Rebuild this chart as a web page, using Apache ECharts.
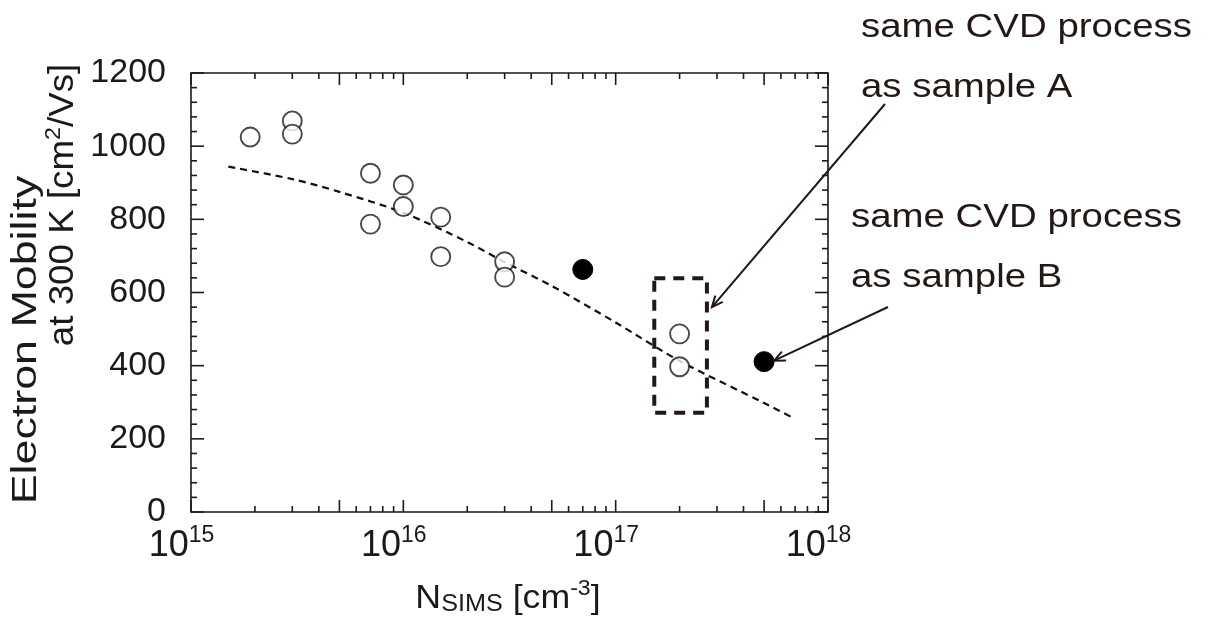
<!DOCTYPE html>
<html>
<head>
<meta charset="utf-8">
<script src="https://cdn.jsdelivr.net/npm/echarts@6/dist/echarts.min.js"></script>
<style>
  html, body { margin: 0; padding: 0; background: #fff; }
  #chart { width: 1212px; height: 619px; }
</style>
</head>
<body>
<div id="chart"></div>
<script>
// Hall mobility of electrons at 300 K versus SIMS donor concentration
const openN  = [1.9e15, 3e15, 3e15, 7e15, 7e15, 1e16, 1e16, 1.5e16, 1.5e16, 3e16, 3e16, 2e17, 2e17];
const openMu = [1025, 1069, 1033, 926, 787, 894, 835, 806, 698, 684, 642, 487, 397];

const filledN  = [7e16, 5e17];
const filledMu = [663, 411];

// empirical mobility model curve (dashed)
const fitN  = [1.5e15, 3e15, 5e15, 1e16, 2e16, 3e16, 5e16, 1e17, 2e17, 5e17, 6.7e17];
const fitMu = [944, 910, 875, 818, 738, 683, 618, 518, 413, 298, 260];

// samples grown with the same CVD process as sample A
const boxN  = [1.52e17, 2.69e17];
const boxMu = [271, 639];

// axis ranges and tick positions
const X_MIN = 1e15, X_MAX = 1e18;
const Y_MIN = 0, Y_MAX = 1200, Y_STEP = 200, Y_MINOR_STEP = 40;
const DECADES = [1e15, 1e16, 1e17, 1e18];
const LOG_MULTIPLIERS = [2, 3, 4, 5, 6, 7, 8, 9];

const INK = '#1a1a1a';
const NOTE = '#231815';
const FONT = '"Liberation Sans", Arial, Helvetica, sans-serif';

// tick marks on all four sides, pointing into the frame
const tickData = [];
DECADES.forEach(function (d, i) {
  tickData.push([d, Y_MIN, 1]);
  if (i < DECADES.length - 1) {
    LOG_MULTIPLIERS.forEach(function (m) {
      tickData.push([d * m, Y_MIN, m === 5 ? 1 : 0]);
    });
  }
});
for (let v = Y_MIN; v <= Y_MAX; v += Y_MINOR_STEP) {
  tickData.push([X_MIN, v, v % Y_STEP === 0 ? 3 : 2]);
}

function renderTick(params, api) {
  const kind = api.value(2);
  const style = { stroke: INK, lineWidth: 1.6 };
  if (kind < 2) {
    const len = kind === 1 ? 12 : 6;
    const v = api.value(0);
    const b = api.coord([v, Y_MIN]);
    const t = api.coord([v, Y_MAX]);
    return { type: 'group', children: [
      { type: 'line', shape: { x1: b[0], y1: b[1], x2: b[0], y2: b[1] - len }, style: style },
      { type: 'line', shape: { x1: t[0], y1: t[1], x2: t[0], y2: t[1] + len }, style: style }
    ] };
  }
  const len = kind === 3 ? 13 : 6;
  const v = api.value(1);
  const l = api.coord([X_MIN, v]);
  const r = api.coord([X_MAX, v]);
  return { type: 'group', children: [
    { type: 'line', shape: { x1: l[0], y1: l[1], x2: l[0] + len, y2: l[1] }, style: style },
    { type: 'line', shape: { x1: r[0], y1: r[1], x2: r[0] - len, y2: r[1] }, style: style }
  ] };
}

function zip(xs, ys) { return xs.map(function (x, i) { return [x, ys[i]]; }); }

const boxPath = [
  [boxN[0], boxMu[1]], [boxN[1], boxMu[1]], [boxN[1], boxMu[0]],
  [boxN[0], boxMu[0]], [boxN[0], boxMu[1]]
];

const chart = echarts.init(document.getElementById('chart'), null, { renderer: 'canvas' });

chart.setOption({
  animation: false,
  backgroundColor: '#fff',
  grid: { left: 191, top: 73, width: 637, height: 439, show: true, borderColor: INK, borderWidth: 1.6, backgroundColor: 'transparent' },
  xAxis: {
    type: 'log', logBase: 10, min: X_MIN, max: X_MAX,
    axisLine: { show: false }, axisTick: { show: false }, splitLine: { show: false },
    axisLabel: {
      margin: 12, color: INK,
      formatter: function (v) { return '{b|10}{s|' + Math.round(Math.log10(v)) + '}'; },
      rich: {
        b: { fontFamily: FONT, fontSize: 36, color: INK, verticalAlign: 'bottom', lineHeight: 40 },
        s: { fontFamily: FONT, fontSize: 23, color: INK, verticalAlign: 'top', lineHeight: 40, padding: [0, 19, 16, 0] }
      }
    }
  },
  yAxis: {
    type: 'value', min: Y_MIN, max: Y_MAX, interval: Y_STEP,
    axisLine: { show: false }, axisTick: { show: false }, splitLine: { show: false },
    axisLabel: {
      margin: 25, color: INK, fontFamily: FONT, fontSize: 34,
      formatter: function (v) { return String(v); }
    }
  },
  series: [
    {
      type: 'custom', name: 'ticks', renderItem: renderTick, data: tickData,
      clip: false, silent: true, z: 5
    },
    {
      type: 'line', name: 'model', data: zip(fitN, fitMu), smooth: 0.3,
      showSymbol: false, silent: true, z: 2,
      lineStyle: { color: '#111', width: 2.2, type: [7, 5] }
    },
    {
      type: 'line', name: 'same process as A', data: boxPath,
      showSymbol: false, silent: true, z: 3,
      lineStyle: { color: NOTE, width: 4, type: [11, 8] }
    },
    {
      type: 'scatter', name: 'samples', data: zip(openN, openMu),
      symbol: 'circle', symbolSize: 19, z: 4,
      itemStyle: { color: '#fff', borderColor: INK, borderWidth: 1.9 }
    },
    {
      type: 'scatter', name: 'samples A, B', data: zip(filledN, filledMu),
      symbol: 'circle', symbolSize: 20, z: 4,
      itemStyle: { color: '#000', borderColor: '#000', borderWidth: 1, opacity: 1 }
    }
  ]
});

// annotation arrows: heads anchored to the plotted marks
function arrow(tail, head) {
  const ang = Math.atan2(head[1] - tail[1], head[0] - tail[0]);
  const len = 12, spread = 0.42;
  const p1 = [head[0] - len * Math.cos(ang - spread), head[1] - len * Math.sin(ang - spread)];
  const p2 = [head[0] - len * Math.cos(ang + spread), head[1] - len * Math.sin(ang + spread)];
  return [
    { type: 'line', shape: { x1: tail[0], y1: tail[1], x2: head[0], y2: head[1] }, style: { stroke: NOTE, lineWidth: 2 }, z: 10 },
    { type: 'polyline', shape: { points: [p1, head, p2] }, style: { stroke: NOTE, lineWidth: 2, fill: null }, z: 10 }
  ];
}

const headA = chart.convertToPixel({ gridIndex: 0 }, [boxN[1], 560]);
headA[0] += 5;
const ptB = chart.convertToPixel({ gridIndex: 0 }, [filledN[1], filledMu[1]]);
const headB = [ptB[0] + 10, ptB[1] - 1];

function note(text, x, baseline) {
  return {
    type: 'text', x: x, y: baseline - 11.8, scaleX: 1.13, z: 10,
    style: { text: text, fontFamily: FONT, fontSize: 34, fill: NOTE, align: 'left', verticalAlign: 'middle' }
  };
}

chart.setOption({
  graphic: [
    note('same CVD process', 861, 39),
    note('as sample A', 861, 99),
    note('same CVD process', 851, 229),
    note('as sample B', 851, 289),
    ...arrow([885, 104], headA),
    ...arrow([888, 307], headB),
    {
      type: 'text', x: 26, y: 340, rotation: Math.PI / 2, scaleX: 1.28, z: 10,
      style: { text: 'Electron Mobility', fontFamily: FONT, fontSize: 35, fill: INK, align: 'center', verticalAlign: 'middle' }
    },
    {
      type: 'text', x: 62, y: 205, rotation: Math.PI / 2, scaleX: 1.05, z: 10,
      style: {
        text: '{t|at 300 K [cm}{s|2}{t|/Vs]}', fontFamily: FONT, fontSize: 35, fill: INK, align: 'center', verticalAlign: 'middle',
        rich: {
          t: { fontFamily: FONT, fontSize: 35, fill: INK, verticalAlign: 'bottom', lineHeight: 38 },
          s: { fontFamily: FONT, fontSize: 22, fill: INK, verticalAlign: 'top', lineHeight: 38, padding: [0, 0, 14, 0] }
        }
      }
    },
    {
      type: 'text', x: 508, y: 597, scaleX: 1.05, z: 10,
      style: {
        text: '{t|N}{sub|SIMS}{t| [cm}{sup|-3}{t|]}', align: 'center', verticalAlign: 'middle',
        rich: {
          t: { fontFamily: FONT, fontSize: 34, fill: INK, verticalAlign: 'bottom', lineHeight: 38 },
          sub: { fontFamily: FONT, fontSize: 24, fill: INK, verticalAlign: 'bottom', lineHeight: 38, padding: [9, 0, 0, 0] },
          sup: { fontFamily: FONT, fontSize: 22, fill: INK, verticalAlign: 'top', lineHeight: 38, padding: [0, 0, 14, 0] }
        }
      }
    }
  ]
});
</script>
</body>
</html>
